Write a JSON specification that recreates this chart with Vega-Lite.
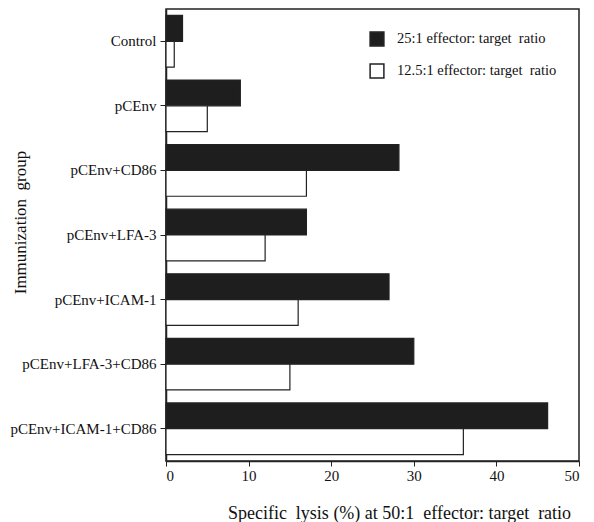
{
  "$schema": "https://vega.github.io/schema/vega-lite/v6.json",
  "autosize": "none",
  "width": 413,
  "height": 452,
  "padding": {"left": 166, "top": 9, "right": 15, "bottom": 61},
  "background": "white",
  "config": {
    "font": "Liberation Serif",
    "view": {"stroke": "#222", "strokeWidth": 1.5}
  },
  "data": {
    "values": [
      {"group": "Control", "series": "25:1 effector: target\u00a0 ratio", "lysis": 2},
      {"group": "Control", "series": "12.5:1 effector: target\u00a0 ratio", "lysis": 1},
      {"group": "pCEnv", "series": "25:1 effector: target\u00a0 ratio", "lysis": 9},
      {"group": "pCEnv", "series": "12.5:1 effector: target\u00a0 ratio", "lysis": 5},
      {"group": "pCEnv+CD86", "series": "25:1 effector: target\u00a0 ratio", "lysis": 28.2},
      {"group": "pCEnv+CD86", "series": "12.5:1 effector: target\u00a0 ratio", "lysis": 17},
      {"group": "pCEnv+LFA-3", "series": "25:1 effector: target\u00a0 ratio", "lysis": 17},
      {"group": "pCEnv+LFA-3", "series": "12.5:1 effector: target\u00a0 ratio", "lysis": 12},
      {"group": "pCEnv+ICAM-1", "series": "25:1 effector: target\u00a0 ratio", "lysis": 27},
      {"group": "pCEnv+ICAM-1", "series": "12.5:1 effector: target\u00a0 ratio", "lysis": 16},
      {"group": "pCEnv+LFA-3+CD86", "series": "25:1 effector: target\u00a0 ratio", "lysis": 30},
      {"group": "pCEnv+LFA-3+CD86", "series": "12.5:1 effector: target\u00a0 ratio", "lysis": 15},
      {"group": "pCEnv+ICAM-1+CD86", "series": "25:1 effector: target\u00a0 ratio", "lysis": 46.2},
      {"group": "pCEnv+ICAM-1+CD86", "series": "12.5:1 effector: target\u00a0 ratio", "lysis": 36}
    ]
  },
  "mark": {"type": "bar", "stroke": "#222", "strokeWidth": 1.2},
  "encoding": {
    "y": {
      "field": "group",
      "type": "nominal",
      "sort": null,
      "scale": {"paddingInner": 0.2, "paddingOuter": 0.1},
      "axis": {
        "title": "Immunization\u00a0 group",
        "titleFont": "Liberation Serif",
        "titleFontSize": 17,
        "titleFontWeight": "normal",
        "titleColor": "#111",
        "titleX": -137,
        "titleY": 213,
        "labelFont": "Liberation Serif",
        "labelFontSize": 15,
        "labelColor": "#111",
        "labelPadding": 4,
        "tickSize": 6,
        "tickColor": "#222",
        "domainColor": "#222",
        "domainWidth": 1.5
      }
    },
    "yOffset": {
      "field": "series",
      "type": "nominal",
      "sort": ["25:1 effector: target\u00a0 ratio", "12.5:1 effector: target\u00a0 ratio"]
    },
    "x": {
      "field": "lysis",
      "type": "quantitative",
      "scale": {"domain": [0, 50], "nice": false},
      "axis": {
        "title": "Specific\u00a0 lysis (%) at 50:1\u00a0 effector: target\u00a0 ratio",
        "titleFont": "Liberation Serif",
        "titleFontSize": 18,
        "titleFontWeight": "normal",
        "titleColor": "#111",
        "titlePadding": 21,
        "titleX": 233,
        "values": [0, 10, 20, 30, 40, 50],
        "labelFont": "Liberation Serif",
        "labelFontSize": 15,
        "labelColor": "#111",
        "tickSize": 5,
        "tickColor": "#222",
        "domainColor": "#222",
        "domainWidth": 1.5,
        "grid": false
      }
    },
    "fill": {
      "field": "series",
      "type": "nominal",
      "scale": {
        "domain": ["25:1 effector: target\u00a0 ratio", "12.5:1 effector: target\u00a0 ratio"],
        "range": ["#1e1e1e", "#ffffff"]
      },
      "legend": {
        "title": null,
        "orient": "none",
        "legendX": 203,
        "legendY": 22,
        "symbolType": "square",
        "symbolSize": 190,
        "symbolStrokeColor": "#222",
        "symbolStrokeWidth": 1.5,
        "labelFont": "Liberation Serif",
        "labelFontSize": 14.5,
        "labelColor": "#111",
        "labelOffset": 12,
        "rowPadding": 12
      }
    }
  }
}
